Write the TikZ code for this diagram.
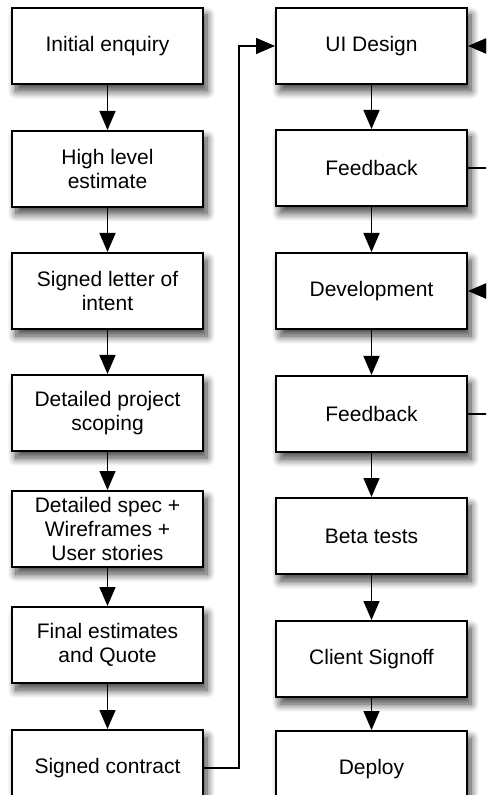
\documentclass[tikz,border=0pt]{standalone}
\usepackage{fontspec}
\setmainfont{Liberation Sans}
\usepackage{tikz}
\usetikzlibrary{shapes, arrows}
\usetikzlibrary{arrows.meta,calc,shadows,shadows.blur}
\usetikzlibrary{positioning}

\begin{document}
\begin{tikzpicture}[
	box/.style={draw, line width=1pt, fill=white, minimum width=95.5pt, minimum height=38pt, inner sep=0pt, align=center, font=\fontsize{10.5}{12}\selectfont,
		blur shadow={shadow xshift=2pt, shadow yshift=-3.5pt, shadow blur radius=4pt, shadow blur steps=10, shadow opacity=75}},
	flow/.style={line width=0.75pt, -{Triangle[length=9.5pt,width=8pt]}}
	]

	\clip (-53.75pt,23pt) rectangle (189.25pt,-374.5pt);

	% left column
	\node(init) [box]{Initial enquiry};
	\node(hle) [below=22.5pt of init, box]{High level\\estimate};
	\node(loi) [below=22pt of hle, box]{Signed letter of\\intent};
	\node(scoping) [below=22pt of loi, box]{Detailed project\\scoping};
	\node(spec) [below=19pt of scoping, box]{Detailed spec +\\Wireframes +\\User stories};
	\node(quote) [below=19pt of spec, box]{Final estimates\\and Quote};
	\node(contract) [below=22.5pt of quote, box]{Signed contract};

	% right column
	\node(ui) [right=35.5pt of init, box]{UI Design};
	\node(fb1) [below=22pt of ui, box]{Feedback};
	\node(dev) [below=22.5pt of fb1, box]{Development};
	\node(fb2) [below=22.5pt of dev, box]{Feedback};
	\node(beta) [below=22pt of fb2, box]{Beta tests};
	\node(signoff) [below=22.5pt of beta, box]{Client Signoff};
	\node(deploy) [below=16pt of signoff, box]{Deploy};

	\draw[flow] (init) -- (hle);
	\draw[flow] (hle) -- (loi);
	\draw[flow] (loi) -- (scoping);
	\draw[flow] (scoping) -- (spec);
	\draw[flow] (spec) -- (quote);
	\draw[flow] (quote) -- (contract);

	\draw[flow] (ui) -- (fb1);
	\draw[flow] (fb1) -- (dev);
	\draw[flow] (dev) -- (fb2);
	\draw[flow] (fb2) -- (beta);
	\draw[flow] (beta) -- (signoff);
	\draw[flow] (signoff) -- (deploy);

	\coordinate[right=17.5pt of contract.east] (c1);
	\draw[flow] (contract.east) -- (c1) |- (ui.west);

	\coordinate[right=20pt of fb1.east] (r1);
	\coordinate[right=20pt of fb2.east] (r2);
	\draw[flow] (fb1.east) -- (r1) |- (ui.east);
	\draw[flow] (fb2.east) -- (r2) |- (dev.east);

\end{tikzpicture}
\end{document}
